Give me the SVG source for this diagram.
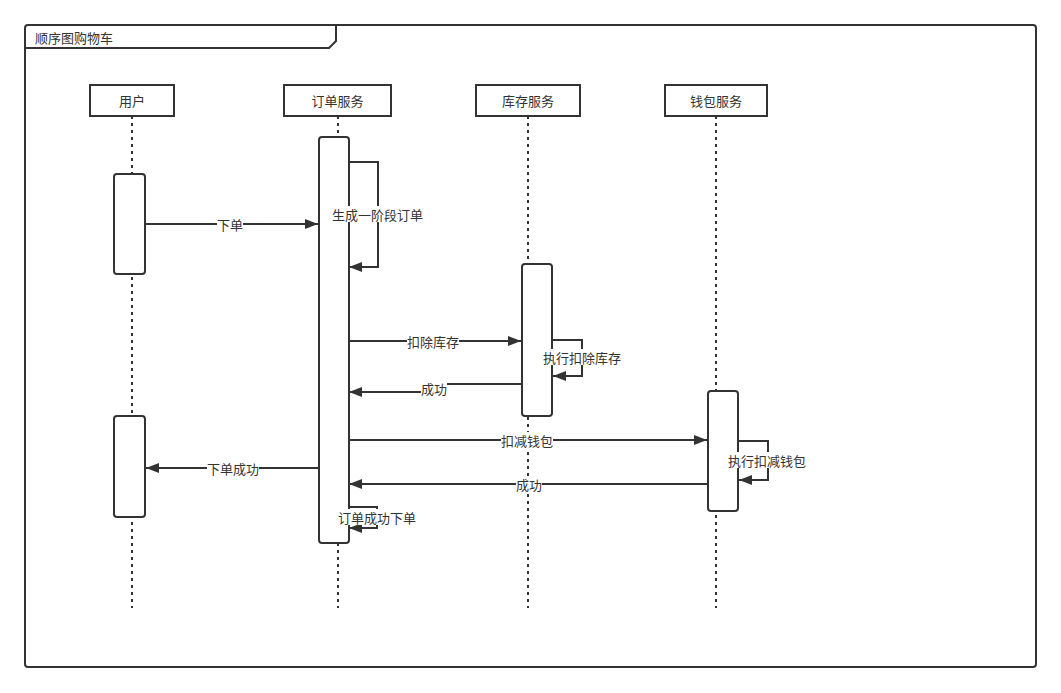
<svg xmlns="http://www.w3.org/2000/svg" width="1061" height="693" viewBox="0 0 1061 693">
<style>
text{font-family:"Noto Sans CJK SC","Liberation Sans",sans-serif;font-size:13px;fill:#333;}
.lbl{text-anchor:middle;dominant-baseline:central;}
.head{fill:#fff;stroke:#333;stroke-width:2;}
.life{stroke:#333;stroke-width:2;stroke-dasharray:3 4;fill:none;}
.act{fill:#fff;stroke:#333;stroke-width:2;}
.msg{fill:none;stroke:#333;stroke-width:2;marker-end:url(#arr);}
.line{fill:none;stroke:#333;stroke-width:2;}
.bg{fill:#fff;}
</style>
<defs>
<marker id="arr" markerUnits="userSpaceOnUse" markerWidth="14" markerHeight="10" refX="13" refY="5" orient="auto">
<path d="M0,0 L13,5 L0,10 z" fill="#333"/>
</marker>
</defs>
<rect width="1061" height="693" fill="#fff"/>
<g id="frame">
<rect x="25" y="25" width="1011" height="642" rx="3" fill="none" stroke="#333" stroke-width="2"/>
<path d="M25,48 H329 L336,41 V25" fill="none" stroke="#333" stroke-width="2"/>
<text x="35" y="37" dominant-baseline="central">顺序图购物车</text>
</g>
<g id="user">
<line class="life" x1="132" y1="116" x2="132" y2="608"/>
<rect class="head" x="90" y="85" width="84" height="31"/>
<text class="lbl" x="132" y="100.5">用户</text>
<rect class="act" x="114" y="174" width="31" height="100" rx="3"/>
<rect class="act" x="114" y="416" width="31" height="101" rx="3"/>
</g>
<g id="order">
<line class="life" x1="338" y1="116" x2="338" y2="608"/>
<rect class="head" x="284" y="85" width="107" height="31"/>
<text class="lbl" x="337.5" y="100.5">订单服务</text>
<rect class="act" x="319" y="137" width="30" height="406" rx="3"/>
</g>
<g id="stock">
<line class="life" x1="528" y1="116" x2="528" y2="608"/>
<rect class="head" x="476" y="85" width="104" height="31"/>
<text class="lbl" x="528" y="100.5">库存服务</text>
<rect class="act" x="522" y="264" width="30" height="152" rx="3"/>
</g>
<g id="wallet">
<line class="life" x1="716" y1="116" x2="716" y2="608"/>
<rect class="head" x="665" y="85" width="102" height="31"/>
<text class="lbl" x="716" y="100.5">钱包服务</text>
<rect class="act" x="708" y="391" width="30" height="120" rx="3"/>
</g>
<g id="connectors">
<path class="msg" d="M145,224 H318"/>
<rect class="bg" x="217" y="216" width="26" height="16"/>
<text class="lbl" x="230" y="224">下单</text>

<path class="msg" d="M349,162 H378 V267 H349"/>
<rect class="bg" x="332" y="206" width="91" height="16"/>
<text class="lbl" x="377.5" y="214">生成一阶段订单</text>

<path class="msg" d="M349,341 H521"/>
<rect class="bg" x="407" y="333" width="52" height="16"/>
<text class="lbl" x="433" y="341">扣除库存</text>

<path class="msg" d="M552,340 H582 V376 H553"/>
<rect class="bg" x="543" y="349" width="78" height="16"/>
<text class="lbl" x="582" y="357">执行扣除库存</text>

<path class="line" d="M522,384 H434"/>
<path class="msg" d="M434,392 H349"/>
<rect class="bg" x="421" y="380" width="26" height="16"/>
<text class="lbl" x="434" y="388">成功</text>

<path class="msg" d="M349,440 H707"/>
<rect class="bg" x="501" y="432" width="52" height="16"/>
<text class="lbl" x="527" y="440">扣减钱包</text>

<path class="msg" d="M738,441 H768 V480 H739"/>
<rect class="bg" x="728" y="452" width="78" height="16"/>
<text class="lbl" x="767" y="460">执行扣减钱包</text>

<path class="msg" d="M708,484 H349"/>
<rect class="bg" x="516" y="476" width="26" height="16"/>
<text class="lbl" x="529" y="484">成功</text>

<path class="msg" d="M319,468 H146"/>
<rect class="bg" x="207" y="460" width="52" height="16"/>
<text class="lbl" x="233" y="468">下单成功</text>

<path class="msg" d="M349,507 H377 V528 H349"/>
<rect class="bg" x="338" y="509" width="78" height="16"/>
<text class="lbl" x="377" y="517">订单成功下单</text>
</g>
</svg>
